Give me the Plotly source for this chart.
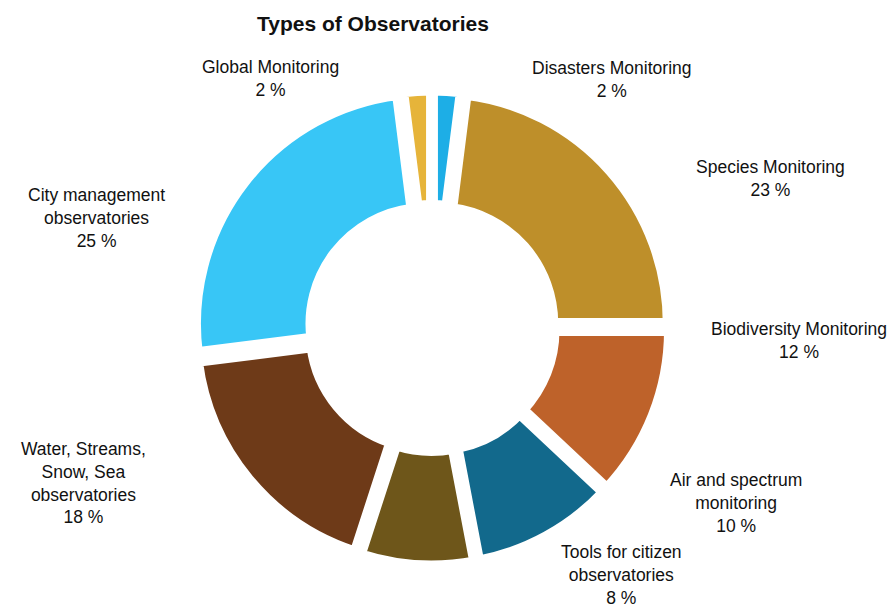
import plotly.graph_objects as go

categories = ["Disasters Monitoring", "Species Monitoring", "Biodiversity Monitoring",
              "Air and spectrum monitoring", "Tools for citizen observatories",
              "Water, Streams, Snow, Sea observatories", "City management observatories",
              "Global Monitoring"]
label_texts = ["Disasters Monitoring", "Species Monitoring", "Biodiversity Monitoring",
               "Air and spectrum<br>monitoring", "Tools for citizen<br>observatories",
               "Water, Streams,<br>Snow, Sea<br>observatories", "City management<br>observatories",
               "Global Monitoring"]
values = [2, 23, 12, 10, 8, 18, 25, 2]
colors = ["#1DAEE6", "#BE8F2A", "#BE622A", "#12698C", "#6E561A", "#6E3A18", "#38C6F6", "#E6B43A"]

# label anchor positions (pixels in 896x607 canvas)
label_px = [(604, 72), (762, 170), (791, 333), (728, 495), (613, 567),
            (75, 475), (88, 210), (262, 70)]

W, H = 896, 607
cx, cy, half = 424, 320, 238

fig = go.Figure(go.Pie(
    labels=categories, values=values, sort=False, direction="clockwise", rotation=0,
    hole=0.5, pull=0.03,
    marker=dict(colors=colors, line=dict(color="white", width=11)),
    textinfo="none", hoverinfo="label+percent", showlegend=False,
    domain=dict(x=[(cx - half) / W, (cx + half) / W], y=[1 - (cy + half) / H, 1 - (cy - half) / H]),
))

for txt, v, (px, py) in zip(label_texts, values, label_px):
    fig.add_annotation(text=f"{txt}<br>{v} %", x=px / W, y=1 - py / H, xref="paper", yref="paper",
                       showarrow=False, xanchor="center", yanchor="middle",
                       font=dict(family="Liberation Sans, Arial", size=17.5, color="#111111"))

fig.add_annotation(text="<b>Types of Observatories</b>", x=365 / W, y=1 - 15 / H, xref="paper", yref="paper",
                   showarrow=False, xanchor="center", yanchor="middle",
                   font=dict(family="Liberation Sans, Arial", size=21, color="#111111"))

fig.update_layout(width=W, height=H, margin=dict(l=0, r=0, t=0, b=0),
                  paper_bgcolor="white", plot_bgcolor="white")
fig.write_html("out.html")
